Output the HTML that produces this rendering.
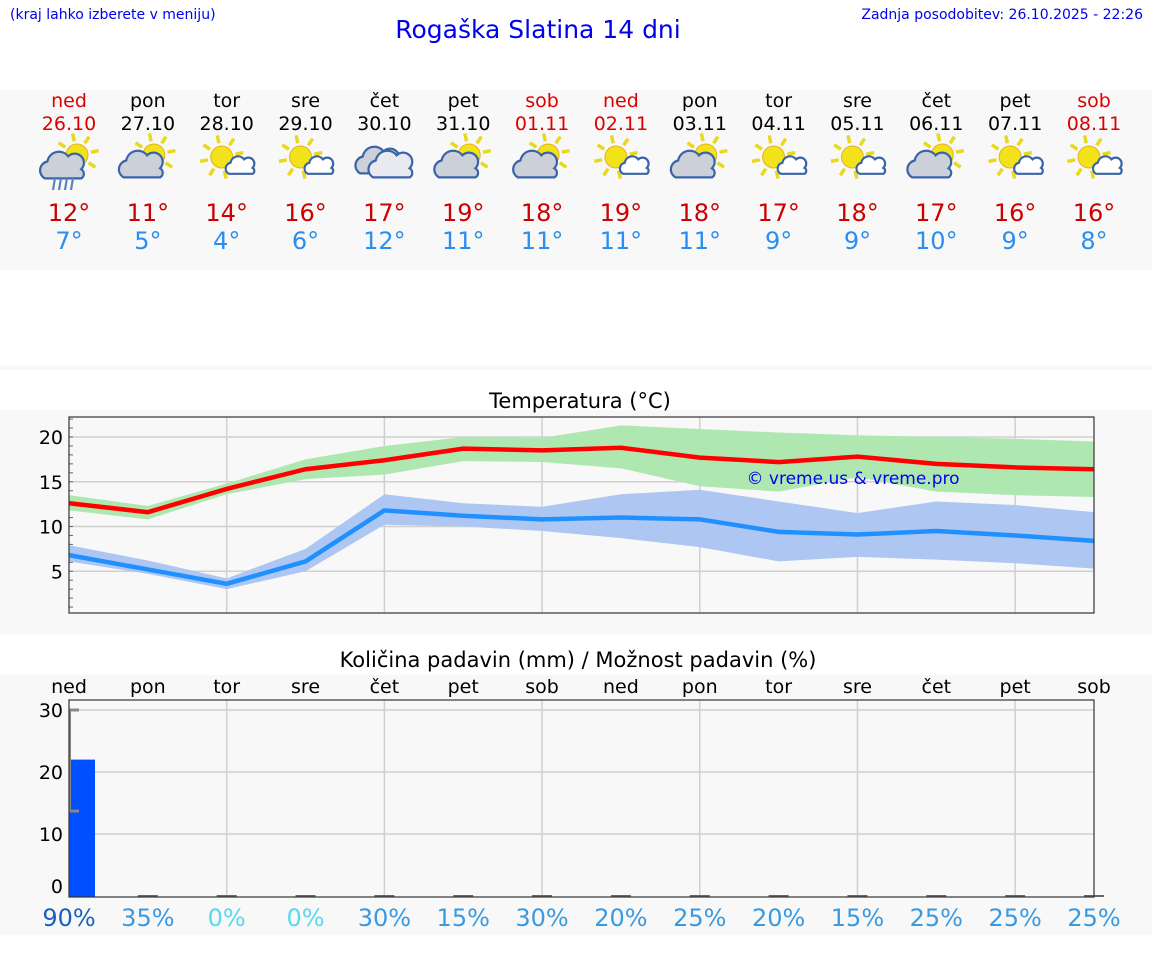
<!DOCTYPE html>
<html><head><meta charset="utf-8"><style>
body{margin:0;width:1152px;height:975px;background:#fff;font-family:"DejaVu Sans","Liberation Sans",sans-serif;overflow:hidden;position:relative}
.abs{position:absolute}
</style></head><body>
<div class="abs" style="left:10px;top:7px;font-size:14px;color:#0000ee">(kraj lahko izberete v meniju)</div>
<div class="abs" style="left:0;width:1076px;top:15px;text-align:center;font-size:25px;color:#0000ee">Rogaška Slatina 14 dni</div>
<div class="abs" style="right:9px;top:7px;font-size:14px;color:#0000ee">Zadnja posodobitev: 26.10.2025 - 22:26</div>
<svg class="abs" style="left:0;top:0" width="1152" height="975" id="svg"></svg>
<script>
const days=["ned","pon","tor","sre","čet","pet","sob","ned","pon","tor","sre","čet","pet","sob"];
const dates=["26.10","27.10","28.10","29.10","30.10","31.10","01.11","02.11","03.11","04.11","05.11","06.11","07.11","08.11"];
const icons=["A","B","C","C","D","B","B","C","B","C","C","B","C","C"];
const hiTemps=[12,11,14,16,17,19,18,19,18,17,18,17,16,16];
const loTemps=[7,5,4,6,12,11,11,11,11,9,9,10,9,8];
const maxLine=[12.6,11.6,14.2,16.4,17.4,18.7,18.5,18.8,17.7,17.2,17.8,17.0,16.6,16.4];
const maxHi=[13.5,12.3,14.8,17.5,19.0,20.0,19.9,21.3,20.9,20.5,20.2,20.0,19.8,19.5];
const maxLo=[11.8,10.8,13.6,15.3,15.8,17.3,17.2,16.5,14.5,13.9,15.5,13.9,13.5,13.3];
const minLine=[6.8,5.2,3.6,6.1,11.8,11.2,10.8,11.0,10.8,9.4,9.1,9.5,9.0,8.4];
const minHi=[7.9,6.2,4.2,7.5,13.6,12.6,12.2,13.6,14.1,12.8,11.5,12.8,12.4,11.6];
const minLo=[6.1,4.7,3.0,5.0,10.2,10.0,9.5,8.7,7.7,6.1,6.6,6.3,5.9,5.3];
const tempTicks=[5,10,15,20];
const precip=[22,0,0,0,0,0,0,0,0,0,0,0,0,0];
const precipErrHi=[30];
const precipErrLo=[13.7];
const precipTicks=[0,10,20,30];
const chance=[90,35,0,0,30,15,30,20,25,20,15,25,25,25];

const NS="http://www.w3.org/2000/svg";
const svg=document.getElementById('svg');
function el(t,a,p){const e=document.createElementNS(NS,t);for(const k in a)e.setAttribute(k,a[k]);(p||svg).appendChild(e);return e;}
function txt(x,y,s,size,fill,anchor){const e=el('text',{x:x,y:y,'font-size':size,fill:fill,'text-anchor':anchor||'middle','font-family':'"DejaVu Sans","Liberation Sans",sans-serif'});e.textContent=s;return e;}
const X=i=>69+i*(1094-69)/13;
const YT=v=>616-8.95*v;
const YP=v=>896-6.2*v;

let p=el('rect',{x:0,y:90,width:1152,height:180,fill:'#f8f8f8'});

el('rect',{x:0,y:365,width:1152,height:5,fill:'#f8f8f8'});
p=el('rect',{x:0,y:410,width:1152,height:225,fill:'#f8f8f8'});

p=el('rect',{x:0,y:675,width:1152,height:260,fill:'#f8f8f8'});


function sun(g,cx,cy,r){for(let k=0;k<8;k++){const a=k*Math.PI/4-0.2;el('line',{x1:cx+Math.cos(a)*(r+3),y1:cy+Math.sin(a)*(r+3),x2:cx+Math.cos(a)*(r+11),y2:cy+Math.sin(a)*(r+11),stroke:'#e8d820','stroke-width':3.5},g);}el('circle',{cx:cx,cy:cy,r:r,fill:'#f2e21a',stroke:'#e8b020','stroke-width':1},g);}
function cloud(g,cx,cy,s,fill){const d=`M${cx-14*s},${cy+8*s} a${7*s},${7*s} 0 0 1 ${2*s},${-13*s} a${9*s},${9*s} 0 0 1 ${16*s},${-4*s} a${7*s},${7*s} 0 0 1 ${10*s},${10*s} a${4*s},${4*s} 0 0 1 0,${7*s} z`;el('path',{d:d,fill:fill,stroke:'#3a64a8','stroke-width':2.2},g);}
for(let i=0;i<14;i++){
  const x=X(i),red=(days[i]=='ned'||days[i]=='sob');
  let t=txt(x,107,days[i],19,red?'#dd0000':'#000');
  t=txt(x,130,dates[i],19,red?'#dd0000':'#000');
  const g=el('g',{});
  const ic=icons[i],cx=x,cy=160;
  if(ic=='A'){sun(g,cx+8,cy-5,11);cloud(g,cx-6,cy+8,1.3,'#ccd0d8');for(let k=0;k<4;k++)el('line',{x1:cx-14+k*6,y1:cy+18,x2:cx-16+k*6,y2:cy+30,stroke:'#5a80c0','stroke-width':2.2},g);}
  else if(ic=='B'){sun(g,cx+6,cy-5,11);cloud(g,cx-6,cy+7,1.3,'#ccd0d8');}
  else if(ic=='C'){sun(g,cx-5,cy-3,11);cloud(g,cx+14,cy+7,0.85,'#fff');}
  else{cloud(g,cx-6,cy+3,1.3,'#ccd0d8');cloud(g,cx+7,cy+7,1.3,'#e8eaf0');}
  t=txt(x,221,hiTemps[i]+'°',24,'#cc0000');
  t=txt(x,249,loTemps[i]+'°',24,'#2a8ef0');
}

let tt=txt(580,408,'Temperatura (°C)',21,'#000');
el('rect',{x:69,y:417,width:1025,height:196,fill:'#f8f8f8'});
tempTicks.forEach(v=>{el('line',{x1:69,x2:1094,y1:YT(v),y2:YT(v),stroke:'#d0d0d0','stroke-width':1.5});
  const l=txt(63,YT(v)+7,String(v),19,'#000','end');});
for(let v=1;v<=22;v++)el('line',{x1:69,x2:73,y1:YT(v),y2:YT(v),stroke:'#666','stroke-width':1});
for(let i=2;i<14;i+=2)el('line',{x1:X(i),x2:X(i),y1:417,y2:613,stroke:'#d0d0d0','stroke-width':1.5});
function band(hi,lo,fill,name){let d='M'+hi.map((v,i)=>X(i)+','+YT(v)).join('L')+'L'+lo.map((v,i)=>X(i)+','+YT(v)).reverse().join('L')+'Z';const e=el('path',{d:d,fill:fill});}
function line(arr,col,name){const e=el('polyline',{points:arr.map((v,i)=>X(i)+','+YT(v)).join(' '),fill:'none',stroke:col,'stroke-width':4.5});}
band(maxHi,maxLo,'#aee8b0','max-temp-band');
band(minHi,minLo,'#aec6f2','min-temp-band');
line(maxLine,'#ff0000','max-temp-line');
line(minLine,'#2090ff','min-temp-line');
let wm=txt(853,484,'© vreme.us & vreme.pro',17,'#0000ee');
el('rect',{x:69,y:417,width:1025,height:196,fill:'none',stroke:'#333','stroke-width':1.2});

tt=txt(578,667,'Količina padavin (mm) / Možnost padavin (%)',21,'#000');
el('rect',{x:69,y:700,width:1025,height:197,fill:'#f8f8f8'});
for(let i=0;i<14;i++){const l=txt(X(i),693,days[i],19,'#000');}
precipTicks.forEach(v=>{if(v>0)el('line',{x1:69,x2:1094,y1:YP(v),y2:YP(v),stroke:'#d0d0d0','stroke-width':1.5});
  const l=txt(63,Math.min(YP(v)+7,893),String(v),19,'#000','end');});
for(let i=2;i<14;i+=2)el('line',{x1:X(i),x2:X(i),y1:700,y2:897,stroke:'#d0d0d0','stroke-width':1.5});
precip.forEach((v,i)=>{
  if(v>0){const b=el('rect',{x:X(i),y:YP(v),width:26,height:897-YP(v),fill:'#0050ff'});}
  else el('line',{x1:X(i)-10,x2:X(i)+10,y1:896,y2:896,stroke:'#666','stroke-width':2});
});
precipErrHi.forEach((v,i)=>{const e=el('g',{});
  el('line',{x1:X(i)+1,x2:X(i)+1,y1:YP(v),y2:YP(precipErrLo[i]),stroke:'#888','stroke-width':2},e);
  el('line',{x1:X(i),x2:X(i)+10,y1:YP(v),y2:YP(v),stroke:'#888','stroke-width':3},e);
  el('line',{x1:X(i),x2:X(i)+10,y1:YP(precipErrLo[i]),y2:YP(precipErrLo[i]),stroke:'#888','stroke-width':3},e);});
el('rect',{x:69,y:700,width:1025,height:197,fill:'none',stroke:'#333','stroke-width':1.2});
chance.forEach((v,i)=>{const c=v>=80?'#1a60c0':(v==0?'#5ad8ee':'#3a9ae0');const l=txt(X(i),926,v+'%',24,c);});
</script>
</body></html>
